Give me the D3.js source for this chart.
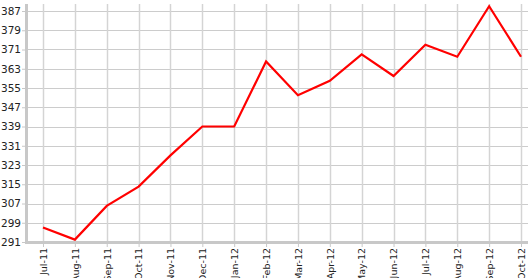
<!DOCTYPE html>
<html><head><meta charset="utf-8">
<script src="https://cdn.jsdelivr.net/npm/d3@7"></script>
<style>html,body{margin:0;padding:0;background:#fff;}svg{display:block;}</style>
</head><body>
<svg id="c" width="528" height="278"></svg>
<script>
const months = ["Jul-11","Aug-11","Sep-11","Oct-11","Nov-11","Dec-11","Jan-12","Feb-12","Mar-12","Apr-12","May-12","Jun-12","Jul-12","Aug-12","Sep-12","Oct-12"];
const values = [297,292,306,314,327,339,339,366,352,358,369,360,373,368,389,368];
const yTicks = [291,299,307,315,323,331,339,347,355,363,371,379,387];

const svg = d3.select("#c");
const x = d3.scalePoint().domain(months).range([43,521]);
const y = d3.scaleLinear().domain([291,387]).range([242,11]);
const font = "DejaVu Sans, sans-serif";

// horizontal gridlines
svg.append("g").selectAll("line").data(yTicks).join("line")
  .attr("x1",26).attr("x2",528)
  .attr("y1",d=>Math.round(y(d))+0.5).attr("y2",d=>Math.round(y(d))+0.5)
  .attr("stroke","#cccccc").attr("stroke-width",1);
// vertical gridlines
svg.append("g").selectAll("line").data(months).join("line")
  .attr("x1",d=>Math.round(x(d))+0.5).attr("x2",d=>Math.round(x(d))+0.5)
  .attr("y1",4).attr("y2",242)
  .attr("stroke","#d4d4d4").attr("stroke-width",1.5);

// y axis
const ya = svg.append("g").attr("transform","translate(26,0)")
  .call(d3.axisLeft(y).tickValues(yTicks).tickSize(4).tickPadding(1));
ya.select(".domain").remove();
ya.selectAll(".tick line").attr("stroke","#c8c8c8");
ya.selectAll("text").attr("font-family",font).attr("font-size","10.5px").attr("fill","#222");
svg.append("line").attr("x1",26.5).attr("x2",26.5).attr("y1",4).attr("y2",244)
  .attr("stroke","#c8c8c8").attr("stroke-width",3);

// x axis
const xa = svg.append("g").attr("transform","translate(0,242)")
  .call(d3.axisBottom(x).tickSize(5).tickPadding(2));
xa.select(".domain").remove();
xa.selectAll(".tick line").attr("stroke","#c8c8c8");
xa.selectAll("text").attr("font-family",font).attr("font-size","9.5px").attr("fill","#222")
  .attr("transform","rotate(-90)").attr("text-anchor","end")
  .attr("x",-6).attr("y",0).attr("dy","0.35em");
svg.append("line").attr("x1",26).attr("x2",528).attr("y1",242.5).attr("y2",242.5)
  .attr("stroke","#c8c8c8").attr("stroke-width",3);

// line
svg.append("path").datum(values)
  .attr("fill","none").attr("stroke","#ff0000").attr("stroke-width",2.2)
  .attr("stroke-linejoin","miter")
  .attr("d",d3.line().x((d,i)=>x(months[i])).y(d=>y(d)));
</script>
</body></html>
